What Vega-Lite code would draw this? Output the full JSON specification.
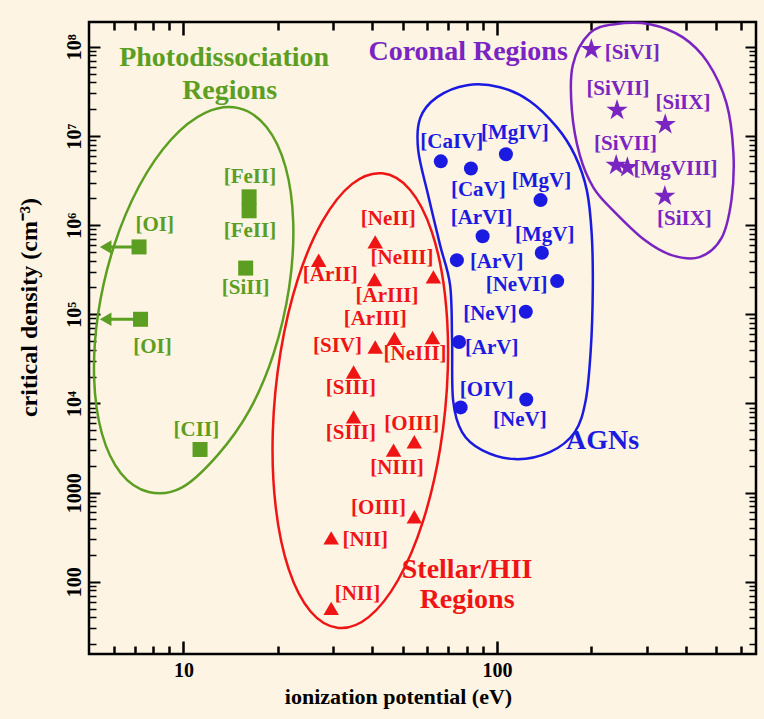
{
  "$schema": "https://vega.github.io/schema/vega-lite/v6.json",
  "width": 667,
  "height": 632,
  "autosize": {"type": "none"},
  "padding": {"left": 89, "top": 22, "right": 8, "bottom": 65},
  "background": "#FDF4E3",
  "config": {
    "view": {"stroke": "black", "strokeWidth": 2.5},
    "axis": {
      "domain": false, "grid": false, "tickColor": "black",
      "labelFont": "Liberation Serif", "labelFontWeight": "bold", "labelFontSize": 20, "labelColor": "black",
      "titleFont": "Liberation Serif", "titleFontWeight": "bold", "titleFontSize": 22, "titleColor": "black"
    }
  },
  "datasets": {
    "points": [
      {"ion": "[OI]", "ev": 7.22, "ncrit": 570000, "grp": "PDR"},
      {"ion": "[OI]", "ev": 7.3, "ncrit": 88000, "grp": "PDR"},
      {"ion": "[FeII]", "ev": 16.2, "ncrit": 2080000, "grp": "PDR"},
      {"ion": "[FeII]", "ev": 16.2, "ncrit": 1450000, "grp": "PDR"},
      {"ion": "[SiII]", "ev": 15.8, "ncrit": 330000, "grp": "PDR"},
      {"ion": "[CII]", "ev": 11.3, "ncrit": 3050, "grp": "PDR"},
      {"ion": "[NeII]", "ev": 40.9, "ncrit": 650000, "grp": "HII"},
      {"ion": "[ArII]", "ev": 27.0, "ncrit": 405000, "grp": "HII"},
      {"ion": "[NeIII]", "ev": 62.7, "ncrit": 263000, "grp": "HII"},
      {"ion": "[ArIII]", "ev": 40.7, "ncrit": 246000, "grp": "HII"},
      {"ion": "[SIV]", "ev": 40.9, "ncrit": 43000, "grp": "HII"},
      {"ion": "[ArIII]", "ev": 47.1, "ncrit": 53700, "grp": "HII"},
      {"ion": "[NeIII]", "ev": 62.3, "ncrit": 55000, "grp": "HII"},
      {"ion": "[SIII]", "ev": 34.9, "ncrit": 22600, "grp": "HII"},
      {"ion": "[SIII]", "ev": 34.9, "ncrit": 7080, "grp": "HII"},
      {"ion": "[NIII]", "ev": 46.8, "ncrit": 3000, "grp": "HII"},
      {"ion": "[OIII]", "ev": 54.5, "ncrit": 3720, "grp": "HII"},
      {"ion": "[OIII]", "ev": 54.5, "ncrit": 536, "grp": "HII"},
      {"ion": "[NII]", "ev": 29.6, "ncrit": 311, "grp": "HII"},
      {"ion": "[NII]", "ev": 29.6, "ncrit": 50.4, "grp": "HII"},
      {"ion": "[CaIV]", "ev": 66.2, "ncrit": 5200000, "grp": "AGN"},
      {"ion": "[CaV]", "ev": 82.6, "ncrit": 4320000, "grp": "AGN"},
      {"ion": "[MgIV]", "ev": 106.8, "ncrit": 6250000, "grp": "AGN"},
      {"ion": "[MgV]", "ev": 137.7, "ncrit": 1910000, "grp": "AGN"},
      {"ion": "[ArVI]", "ev": 90.0, "ncrit": 750000, "grp": "AGN"},
      {"ion": "[MgV]", "ev": 139, "ncrit": 490000, "grp": "AGN"},
      {"ion": "[ArV]", "ev": 74.5, "ncrit": 405000, "grp": "AGN"},
      {"ion": "[NeVI]", "ev": 155.6, "ncrit": 236000, "grp": "AGN"},
      {"ion": "[NeV]", "ev": 123.6, "ncrit": 107000, "grp": "AGN"},
      {"ion": "[ArV]", "ev": 75.7, "ncrit": 49000, "grp": "AGN"},
      {"ion": "[OIV]", "ev": 76.6, "ncrit": 9040, "grp": "AGN"},
      {"ion": "[NeV]", "ev": 124, "ncrit": 11100, "grp": "AGN"},
      {"ion": "[SiVI]", "ev": 200, "ncrit": 93500000, "grp": "Coronal"},
      {"ion": "[SiVII]", "ev": 241.5, "ncrit": 19500000, "grp": "Coronal"},
      {"ion": "[SiIX]", "ev": 344, "ncrit": 13500000, "grp": "Coronal"},
      {"ion": "[SiVII]", "ev": 240, "ncrit": 4710000, "grp": "Coronal"},
      {"ion": "[MgVIII]", "ev": 260.6, "ncrit": 4430000, "grp": "Coronal"},
      {"ion": "[SiIX]", "ev": 343, "ncrit": 2110000, "grp": "Coronal"}
    ],
    "labels": [
      {"text": "[OI]", "lx": 8.1, "ly": 1000000, "grp": "PDR"},
      {"text": "[OI]", "lx": 7.97, "ly": 43200, "grp": "PDR"},
      {"text": "[FeII]", "lx": 16.3, "ly": 3430000, "grp": "PDR"},
      {"text": "[FeII]", "lx": 16.3, "ly": 857000, "grp": "PDR"},
      {"text": "[SiII]", "lx": 15.8, "ly": 195000, "grp": "PDR"},
      {"text": "[CII]", "lx": 11.0, "ly": 5020, "grp": "PDR"},
      {"text": "[NeII]", "lx": 45.0, "ly": 1168000, "grp": "HII"},
      {"text": "[NeIII]", "lx": 49.8, "ly": 424000, "grp": "HII"},
      {"text": "[ArII]", "lx": 29.4, "ly": 275000, "grp": "HII"},
      {"text": "[ArIII]", "lx": 44.6, "ly": 161000, "grp": "HII"},
      {"text": "[ArIII]", "lx": 40.9, "ly": 87700, "grp": "HII"},
      {"text": "[SIV]", "lx": 31.0, "ly": 44000, "grp": "HII"},
      {"text": "[NeIII]", "lx": 54.8, "ly": 35700, "grp": "HII"},
      {"text": "[SIII]", "lx": 34.2, "ly": 14800, "grp": "HII"},
      {"text": "[SIII]", "lx": 34.2, "ly": 4620, "grp": "HII"},
      {"text": "[OIII]", "lx": 53.5, "ly": 5860, "grp": "HII"},
      {"text": "[NIII]", "lx": 48.0, "ly": 1870, "grp": "HII"},
      {"text": "[OIII]", "lx": 41.9, "ly": 665, "grp": "HII"},
      {"text": "[NII]", "lx": 38.0, "ly": 294, "grp": "HII"},
      {"text": "[NII]", "lx": 35.9, "ly": 72.8, "grp": "HII"},
      {"text": "[CaIV]", "lx": 71.8, "ly": 8600000, "grp": "AGN"},
      {"text": "[MgIV]", "lx": 114, "ly": 10700000, "grp": "AGN"},
      {"text": "[CaV]", "lx": 87.2, "ly": 2470000, "grp": "AGN"},
      {"text": "[MgV]", "lx": 138.7, "ly": 3140000, "grp": "AGN"},
      {"text": "[ArVI]", "lx": 89.3, "ly": 1210000, "grp": "AGN"},
      {"text": "[MgV]", "lx": 142, "ly": 773000, "grp": "AGN"},
      {"text": "[ArV]", "lx": 99.8, "ly": 388000, "grp": "AGN"},
      {"text": "[NeVI]", "lx": 115.5, "ly": 212000, "grp": "AGN"},
      {"text": "[NeV]", "lx": 95, "ly": 102000, "grp": "AGN"},
      {"text": "[ArV]", "lx": 96.2, "ly": 41400, "grp": "AGN"},
      {"text": "[OIV]", "lx": 92.7, "ly": 14100, "grp": "AGN"},
      {"text": "[NeV]", "lx": 118.3, "ly": 6500, "grp": "AGN"},
      {"text": "[SiVI]", "lx": 270, "ly": 85600000, "grp": "Coronal"},
      {"text": "[SiVII]", "lx": 243, "ly": 34100000, "grp": "Coronal"},
      {"text": "[SiIX]", "lx": 392, "ly": 23200000, "grp": "Coronal"},
      {"text": "[SiVII]", "lx": 257, "ly": 8100000, "grp": "Coronal"},
      {"text": "[MgVIII]", "lx": 371, "ly": 4220000, "grp": "Coronal"},
      {"text": "[SiIX]", "lx": 396, "ly": 1160000, "grp": "Coronal"}
    ],
    "titles": [
      {"text": "Photodissociation", "tx": 13.49, "ty": 74600000, "grp": "PDR"},
      {"text": "Regions", "tx": 14.04, "ty": 31800000, "grp": "PDR"},
      {"text": "Coronal Regions", "tx": 80.9, "ty": 87000000, "grp": "Coronal"},
      {"text": "AGNs", "tx": 217, "ty": 3790, "grp": "AGN"},
      {"text": "Stellar/HII", "tx": 80.3, "ty": 135, "grp": "HII"},
      {"text": "Regions", "tx": 80.3, "ty": 62.4, "grp": "HII"}
    ],
    "arrows": [
      {"ion": "[OI]", "x1": 5.65, "x2": 7.22, "y": 570000, "grp": "PDR"},
      {"ion": "[OI]", "x1": 5.65, "x2": 7.3, "y": 88000, "grp": "PDR"}
    ],
    "rings": [
      {"grp": "PDR", "i": 1, "ex": 14.99, "ey": 20540000},
      {"grp": "PDR", "i": 2, "ex": 11.77, "ey": 18290000},
      {"grp": "PDR", "i": 3, "ex": 9.125, "ey": 9080000},
      {"grp": "PDR", "i": 4, "ex": 7.228, "ey": 2748000},
      {"grp": "PDR", "i": 5, "ex": 6.006, "ey": 583000},
      {"grp": "PDR", "i": 6, "ex": 5.351, "ey": 103900},
      {"grp": "PDR", "i": 7, "ex": 5.191, "ey": 19410},
      {"grp": "PDR", "i": 8, "ex": 5.497, "ey": 4605},
      {"grp": "PDR", "i": 9, "ex": 6.318, "ey": 1652},
      {"grp": "PDR", "i": 10, "ex": 7.744, "ey": 1019},
      {"grp": "PDR", "i": 11, "ex": 9.876, "ey": 1139},
      {"grp": "PDR", "i": 12, "ex": 12.86, "ey": 2636},
      {"grp": "PDR", "i": 13, "ex": 16.25, "ey": 8427},
      {"grp": "PDR", "i": 14, "ex": 19.37, "ey": 35680},
      {"grp": "PDR", "i": 15, "ex": 21.74, "ey": 200300},
      {"grp": "PDR", "i": 16, "ex": 22.40, "ey": 1073000},
      {"grp": "PDR", "i": 17, "ex": 21.16, "ey": 4522000},
      {"grp": "PDR", "i": 18, "ex": 18.41, "ey": 12610000},
      {"grp": "HII", "i": 1, "ex": 43.06, "ey": 3813000},
      {"grp": "HII", "i": 2, "ex": 34.46, "ey": 2886000},
      {"grp": "HII", "i": 3, "ex": 27.77, "ey": 1107000},
      {"grp": "HII", "i": 4, "ex": 23.13, "ey": 243700},
      {"grp": "HII", "i": 5, "ex": 20.39, "ey": 36810},
      {"grp": "HII", "i": 6, "ex": 19.28, "ey": 4786},
      {"grp": "HII", "i": 7, "ex": 19.70, "ey": 686.5},
      {"grp": "HII", "i": 8, "ex": 21.68, "ey": 137.7},
      {"grp": "HII", "i": 9, "ex": 25.44, "ey": 46.45},
      {"grp": "HII", "i": 10, "ex": 31.20, "ey": 30.41},
      {"grp": "HII", "i": 11, "ex": 38.97, "ey": 40.19},
      {"grp": "HII", "i": 12, "ex": 48.38, "ey": 104.8},
      {"grp": "HII", "i": 13, "ex": 58.07, "ey": 475.8},
      {"grp": "HII", "i": 14, "ex": 65.91, "ey": 3150},
      {"grp": "HII", "i": 15, "ex": 69.70, "ey": 24230},
      {"grp": "HII", "i": 16, "ex": 68.23, "ey": 168900},
      {"grp": "HII", "i": 17, "ex": 61.98, "ey": 842000},
      {"grp": "HII", "i": 18, "ex": 52.79, "ey": 2497000},
      {"grp": "AGN", "i": 1, "ex": 80.28, "ey": 37200000},
      {"grp": "AGN", "i": 2, "ex": 102.2, "ey": 35300000},
      {"grp": "AGN", "i": 3, "ex": 127.4, "ey": 24600000},
      {"grp": "AGN", "i": 4, "ex": 155.2, "ey": 12570000},
      {"grp": "AGN", "i": 5, "ex": 177.1, "ey": 6100000},
      {"grp": "AGN", "i": 6, "ex": 193.4, "ey": 2472000},
      {"grp": "AGN", "i": 7, "ex": 200.6, "ey": 773000},
      {"grp": "AGN", "i": 8, "ex": 202.1, "ey": 186800},
      {"grp": "AGN", "i": 9, "ex": 199.1, "ey": 39700},
      {"grp": "AGN", "i": 10, "ex": 191.9, "ey": 10910},
      {"grp": "AGN", "i": 11, "ex": 177.1, "ey": 4775},
      {"grp": "AGN", "i": 12, "ex": 147.4, "ey": 2848},
      {"grp": "AGN", "i": 13, "ex": 114.1, "ey": 2377},
      {"grp": "AGN", "i": 14, "ex": 89.6, "ey": 2999},
      {"grp": "AGN", "i": 15, "ex": 77.38, "ey": 4775},
      {"grp": "AGN", "i": 16, "ex": 72.45, "ey": 10910},
      {"grp": "AGN", "i": 17, "ex": 71.92, "ey": 51360},
      {"grp": "AGN", "i": 18, "ex": 70.88, "ey": 212600},
      {"grp": "AGN", "i": 19, "ex": 65.86, "ey": 597000},
      {"grp": "AGN", "i": 20, "ex": 60.33, "ey": 2172000},
      {"grp": "AGN", "i": 21, "ex": 56.08, "ey": 6940000},
      {"grp": "AGN", "i": 22, "ex": 56.9, "ey": 15860000},
      {"grp": "AGN", "i": 23, "ex": 64.43, "ey": 27300000},
      {"grp": "Coronal", "i": 1, "ex": 237.4, "ey": 179700000},
      {"grp": "Coronal", "i": 2, "ex": 306.9, "ey": 179700000},
      {"grp": "Coronal", "i": 3, "ex": 390.7, "ey": 128500000},
      {"grp": "Coronal", "i": 4, "ex": 469.3, "ey": 67400000},
      {"grp": "Coronal", "i": 5, "ex": 539.3, "ey": 23360000},
      {"grp": "Coronal", "i": 6, "ex": 567.6, "ey": 6430000},
      {"grp": "Coronal", "i": 7, "ex": 559.4, "ey": 1909000},
      {"grp": "Coronal", "i": 8, "ex": 519.9, "ey": 715000},
      {"grp": "Coronal", "i": 9, "ex": 442.4, "ey": 438000},
      {"grp": "Coronal", "i": 10, "ex": 360.5, "ey": 461000},
      {"grp": "Coronal", "i": 11, "ex": 295.8, "ey": 680000},
      {"grp": "Coronal", "i": 12, "ex": 237.4, "ey": 1400000},
      {"grp": "Coronal", "i": 13, "ex": 203.5, "ey": 2603000},
      {"grp": "Coronal", "i": 14, "ex": 183.7, "ey": 6100000},
      {"grp": "Coronal", "i": 15, "ex": 173.3, "ey": 19500000},
      {"grp": "Coronal", "i": 16, "ex": 174.5, "ey": 62300000},
      {"grp": "Coronal", "i": 17, "ex": 197.7, "ey": 142400000}
    ]
  },
  "resolve": {"axis": {"x": "independent", "y": "independent"}},
  "layer": [
    {
      "data": {"name": "rings"},
      "mark": {"type": "line", "interpolate": "cardinal-closed", "strokeWidth": 2.5},
      "encoding": {
        "x": {"field": "ex", "type": "quantitative", "scale": {"type": "log", "domain": [5, 670], "nice": false},
          "axis": {"orient": "bottom", "values": [10, 100], "format": "d", "tickSize": -13, "tickWidth": 2.5, "labelPadding": 19, "title": "ionization potential (eV)", "titleX": 309, "titleY": 32}},
        "y": {"field": "ey", "type": "quantitative", "scale": {"type": "log", "domain": [15.5, 190000000], "nice": false},
          "axis": {"orient": "left", "values": [100, 1000, 10000, 100000, 1000000, 10000000, 100000000],
            "labelExpr": "datum.value < 10000 ? format(datum.value, 'd') : '10' + ['⁴','⁵','⁶','⁷','⁸'][round(log(datum.value) / LN10) - 4]",
            "labelAngle": -90, "labelAlign": "center", "labelBaseline": "alphabetic", "tickSize": -11, "tickWidth": 2, "labelPadding": 20,
            "title": "critical density (cm⁻³)", "titleFontSize": 24, "titleX": -48, "titleY": 285}},
        "color": {"field": "grp", "type": "nominal", "scale": {"domain": ["PDR", "HII", "AGN", "Coronal"], "range": ["#5c9e21", "#f01515", "#1a1ae0", "#7a24c2"]}, "legend": null},
        "order": {"field": "i", "type": "quantitative"}
      }
    },
    {
      "data": {"name": "arrows"},
      "mark": {"type": "rule", "strokeWidth": 3, "color": "#5c9e21"},
      "encoding": {
        "x": {"field": "x1", "type": "quantitative", "scale": {"type": "log", "domain": [5, 670], "nice": false},
          "axis": {"orient": "bottom", "values": [6, 7, 8, 9, 20, 30, 40, 50, 60, 70, 80, 90, 200, 300, 400, 500, 600], "tickSize": -8, "tickWidth": 2.5, "labels": false, "title": null}},
        "x2": {"field": "x2"},
        "y": {"field": "y", "type": "quantitative", "scale": {"type": "log", "domain": [15.5, 190000000], "nice": false},
          "axis": {"orient": "left", "values": [20, 30, 40, 50, 60, 70, 80, 90, 200, 300, 400, 500, 600, 700, 800, 900, 2000, 3000, 4000, 5000, 6000, 7000, 8000, 9000, 20000, 30000, 40000, 50000, 60000, 70000, 80000, 90000, 200000, 300000, 400000, 500000, 600000, 700000, 800000, 900000, 2000000, 3000000, 4000000, 5000000, 6000000, 7000000, 8000000, 9000000, 20000000, 30000000, 40000000, 50000000, 60000000, 70000000, 80000000, 90000000], "tickSize": -7, "tickWidth": 1.5, "labels": false, "title": null}}
      }
    },
    {
      "data": {"name": "arrows"},
      "mark": {"type": "point", "shape": "triangle-left", "filled": true, "size": 180, "opacity": 1, "color": "#5c9e21"},
      "encoding": {
        "x": {"field": "x1", "type": "quantitative", "scale": {"type": "log", "domain": [5, 670], "nice": false},
          "axis": {"orient": "top", "values": [10, 100], "tickSize": -13, "tickWidth": 2.5, "labels": false, "title": null}},
        "y": {"field": "y", "type": "quantitative", "scale": {"type": "log", "domain": [15.5, 190000000], "nice": false},
          "axis": {"orient": "right", "values": [100, 1000, 10000, 100000, 1000000, 10000000, 100000000], "tickSize": -11, "tickWidth": 2, "labels": false, "title": null}}
      }
    },
    {
      "data": {"name": "points"},
      "transform": [{"filter": "datum.grp === 'PDR'"}],
      "mark": {"type": "point", "shape": "square", "filled": true, "size": 225, "opacity": 1, "color": "#5c9e21"},
      "encoding": {
        "x": {"field": "ev", "type": "quantitative", "scale": {"type": "log", "domain": [5, 670], "nice": false},
          "axis": {"orient": "top", "values": [6, 7, 8, 9, 20, 30, 40, 50, 60, 70, 80, 90, 200, 300, 400, 500, 600], "tickSize": -8, "tickWidth": 2.5, "labels": false, "title": null}},
        "y": {"field": "ncrit", "type": "quantitative", "scale": {"type": "log", "domain": [15.5, 190000000], "nice": false},
          "axis": {"orient": "right", "values": [20, 30, 40, 50, 60, 70, 80, 90, 200, 300, 400, 500, 600, 700, 800, 900, 2000, 3000, 4000, 5000, 6000, 7000, 8000, 9000, 20000, 30000, 40000, 50000, 60000, 70000, 80000, 90000, 200000, 300000, 400000, 500000, 600000, 700000, 800000, 900000, 2000000, 3000000, 4000000, 5000000, 6000000, 7000000, 8000000, 9000000, 20000000, 30000000, 40000000, 50000000, 60000000, 70000000, 80000000, 90000000], "tickSize": -7, "tickWidth": 1.5, "labels": false, "title": null}}
      }
    },
    {
      "data": {"name": "points"},
      "transform": [{"filter": "datum.grp === 'HII'"}],
      "mark": {"type": "point", "shape": "triangle-up", "filled": true, "size": 240, "opacity": 1, "color": "#f01515"},
      "encoding": {
        "x": {"field": "ev", "type": "quantitative", "scale": {"type": "log", "domain": [5, 670], "nice": false}, "axis": null},
        "y": {"field": "ncrit", "type": "quantitative", "scale": {"type": "log", "domain": [15.5, 190000000], "nice": false}, "axis": null}
      }
    },
    {
      "data": {"name": "points"},
      "transform": [{"filter": "datum.grp === 'AGN'"}],
      "mark": {"type": "point", "shape": "circle", "filled": true, "size": 196, "opacity": 1, "color": "#1a1ae0"},
      "encoding": {
        "x": {"field": "ev", "type": "quantitative", "scale": {"type": "log", "domain": [5, 670], "nice": false}, "axis": null},
        "y": {"field": "ncrit", "type": "quantitative", "scale": {"type": "log", "domain": [15.5, 190000000], "nice": false}, "axis": null}
      }
    },
    {
      "data": {"name": "points"},
      "transform": [{"filter": "datum.grp === 'Coronal'"}],
      "mark": {"type": "point", "shape": "M0,-1L0.2245,-0.309L0.9511,-0.309L0.3633,0.118L0.5878,0.809L0,0.382L-0.5878,0.809L-0.3633,0.118L-0.9511,-0.309L-0.2245,-0.309Z", "filled": true, "size": 500, "opacity": 1, "color": "#7a24c2"},
      "encoding": {
        "x": {"field": "ev", "type": "quantitative", "scale": {"type": "log", "domain": [5, 670], "nice": false}, "axis": null},
        "y": {"field": "ncrit", "type": "quantitative", "scale": {"type": "log", "domain": [15.5, 190000000], "nice": false}, "axis": null}
      }
    },
    {
      "data": {"name": "labels"},
      "mark": {"type": "text", "font": "Liberation Serif", "fontWeight": "bold", "fontSize": 21, "align": "center", "baseline": "middle"},
      "encoding": {
        "x": {"field": "lx", "type": "quantitative", "scale": {"type": "log", "domain": [5, 670], "nice": false}, "axis": null},
        "y": {"field": "ly", "type": "quantitative", "scale": {"type": "log", "domain": [15.5, 190000000], "nice": false}, "axis": null},
        "text": {"field": "text"},
        "color": {"field": "grp", "type": "nominal", "legend": null}
      }
    },
    {
      "data": {"name": "titles"},
      "mark": {"type": "text", "font": "Liberation Serif", "fontWeight": "bold", "fontSize": 28, "align": "center", "baseline": "middle"},
      "encoding": {
        "x": {"field": "tx", "type": "quantitative", "scale": {"type": "log", "domain": [5, 670], "nice": false}, "axis": null},
        "y": {"field": "ty", "type": "quantitative", "scale": {"type": "log", "domain": [15.5, 190000000], "nice": false}, "axis": null},
        "text": {"field": "text"},
        "color": {"field": "grp", "type": "nominal", "legend": null}
      }
    }
  ]
}
